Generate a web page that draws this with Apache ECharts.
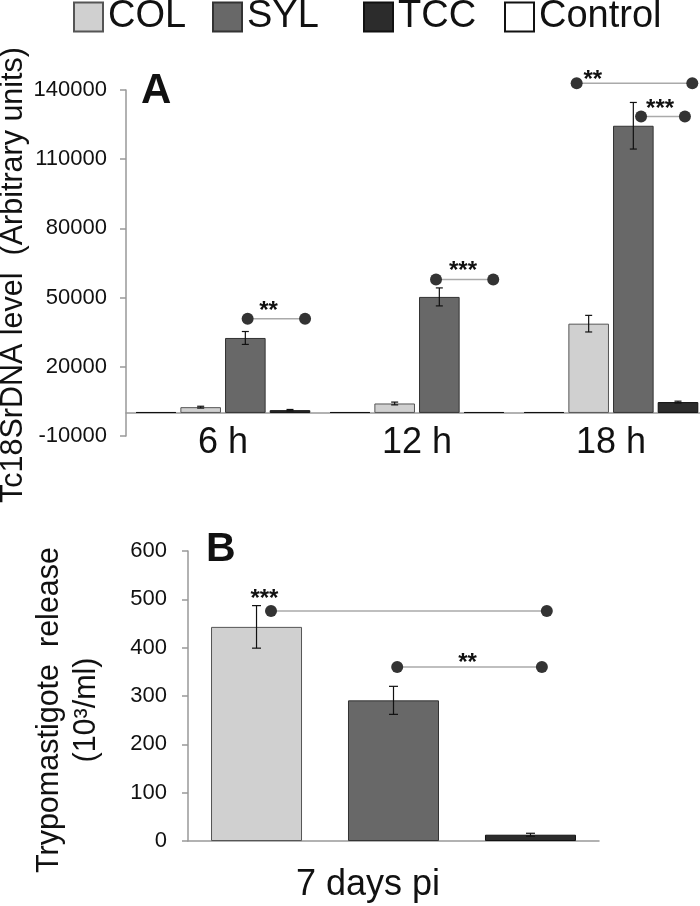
<!DOCTYPE html>
<html><head><meta charset="utf-8">
<script src="https://cdn.jsdelivr.net/npm/echarts@6/dist/echarts.min.js"></script>
<style>html,body{margin:0;padding:0;background:#fff}#c{width:700px;height:906px}</style>
</head><body><div id="c"></div>
<script>
// ---- data ----
const legendNames = ['COL', 'SYL', 'TCC', 'Control'];
const timeCategories = ['6 h', '12 h', '18 h'];
const controlA = [400, 400, 400];
const controlAErr = [0, 0, 0];
const colA = [2500, 4100, 38700];
const colAErr = [400, 600, 3600];
const sylA = [32500, 50300, 124500];
const sylAErr = [2800, 3900, 10100];
const tccA = [1200, 400, 4700];
const tccAErr = [300, 0, 400];
const yTicksA = [-10000, 20000, 50000, 80000, 110000, 140000];

const dayCategories = ['7 days pi'];
const colB = [443];
const colBErr = [44];
const sylB = [291];
const sylBErr = [29];
const tccB = [13];
const tccBErr = [3];
const yTicksB = [0, 100, 200, 300, 400, 500, 600];

// significance brackets: [xStart, xEnd, yLine, labelX, labelY, label] (x in category units)
const bracketsA = [
  [0.627, 0.923, 40800, 0.735, 46100, '**'],
  [1.598, 1.893, 57800, 1.737, 63400, '***'],
  [2.323, 2.919, 142900, 2.406, 146500, '**'],
  [2.655, 2.881, 128500, 2.753, 133800, '***']
];
const bracketsB = [
  [0.202, 0.873, 476, 0.186, 511, '***'],
  [0.509, 0.861, 360, 0.680, 378, '**']
];

// ---- styles ----
const FONT = '"Liberation Sans", Arial, sans-serif';
const colors = { COL: '#d0d0d0', SYL: '#686868', TCC: '#2c2c2c', Control: '#ffffff' };
const borders = { COL: '#555', SYL: '#333', TCC: '#111', Control: '#111' };
const gapA = { cat: 0.10, bar: 0.10 };
const gapB = { cat: 0.112, bar: 0.505 };

function pct(v) { return (v * 100) + '%'; }

function barSeries(name, data, xi, yi, gap) {
  return {
    type: 'bar', name: name, xAxisIndex: xi, yAxisIndex: yi, data: data,
    barCategoryGap: pct(gap.cat), barGap: pct(gap.bar),
    itemStyle: { color: colors[name], borderColor: borders[name], borderWidth: 1 },
    emphasis: { disabled: true }
  };
}

function errSeries(values, errs, idx, n, xi, yi, gap, capHalf) {
  return {
    type: 'custom', xAxisIndex: xi, yAxisIndex: yi, z: 5, silent: true,
    data: values.map((v, i) => [i, v, errs[i]]),
    encode: { x: 0, y: 1 },
    renderItem: function (params, api) {
      const i = api.value(0), v = api.value(1), e = api.value(2);
      if (!e) return;
      const band = api.size([1, 0])[0];
      const usable = band * (1 - gap.cat);
      const bw = usable / (n + (n - 1) * gap.bar);
      const off = -usable / 2 + idx * bw * (1 + gap.bar) + bw / 2;
      const t = api.coord([i, v + e]);
      const b = api.coord([i, v - e]);
      const x = t[0] + off;
      const st = { stroke: '#111', lineWidth: 1.2 };
      return { type: 'group', children: [
        { type: 'line', shape: { x1: x, y1: t[1], x2: x, y2: b[1] }, style: st },
        { type: 'line', shape: { x1: x - capHalf, y1: t[1], x2: x + capHalf, y2: t[1] }, style: st },
        { type: 'line', shape: { x1: x - capHalf, y1: b[1], x2: x + capHalf, y2: b[1] }, style: st }
      ] };
    }
  };
}

function bracketSeries(list, xi, yi) {
  return {
    type: 'custom', xAxisIndex: xi, yAxisIndex: yi, z: 6, silent: true,
    data: list.map(r => [r[0], r[1], r[2], r[3], r[4]]),
    encode: { x: 0, y: 2 },
    renderItem: function (params, api) {
      const y = api.value(2);
      const p1 = api.coord([api.value(0), y]);
      const p2 = api.coord([api.value(1), y]);
      const pl = api.coord([api.value(3), api.value(4)]);
      return { type: 'group', children: [
        { type: 'line', shape: { x1: p1[0], y1: p1[1], x2: p2[0], y2: p2[1] }, style: { stroke: '#aaa', lineWidth: 1.5 } },
        { type: 'circle', shape: { cx: p1[0], cy: p1[1], r: 6 }, style: { fill: '#333' } },
        { type: 'circle', shape: { cx: p2[0], cy: p2[1], r: 6 }, style: { fill: '#333' } },
        { type: 'text', x: pl[0], y: pl[1] + 5, style: { text: list[params.dataIndex][5], fill: '#111', font: 'bold 24px ' + FONT, align: 'center', verticalAlign: 'middle' } }
      ] };
    }
  };
}

const axisGray = '#999';
const legendLefts = [73, 212, 363, 504];
const plain = v => String(v);

const option = {
  animation: false,
  textStyle: { fontFamily: FONT },
  legend: legendNames.map((n, i) => ({
    data: [n], left: legendLefts[i], top: -2, padding: 0, itemWidth: 29, itemHeight: 29, icon: 'rect',
    selectedMode: false, textStyle: { fontSize: 38, color: '#111', fontFamily: FONT }
  })),
  graphic: [
    { type: 'text', left: 141, top: 70, style: { text: 'A', font: 'bold 42px ' + FONT, fill: '#111' } },
    { type: 'text', left: 206, top: 529, style: { text: 'B', font: 'bold 41px ' + FONT, fill: '#111' } }
  ],
  grid: [
    { left: 126, top: 90, width: 582, height: 346, outerBoundsMode: 'none' },
    { left: 188, top: 551, width: 411, height: 290, outerBoundsMode: 'none' }
  ],
  xAxis: [
    { type: 'category', gridIndex: 0, data: timeCategories,
      axisLine: { onZero: true, onZeroAxisIndex: 0, lineStyle: { color: axisGray, width: 1.5 } }, axisTick: { show: false },
      axisLabel: { fontSize: 36, color: '#111', margin: -11 } },
    { type: 'value', gridIndex: 0, min: 0, max: 3, show: false, axisLine: { onZero: false } },
    { type: 'category', gridIndex: 1, data: dayCategories,
      axisLine: { onZero: false, lineStyle: { color: axisGray, width: 1.5 } }, axisTick: { show: false },
      axisLabel: { fontSize: 36, color: '#111', margin: 26, padding: [0, 51, 0, 0] } },
    { type: 'value', gridIndex: 1, min: 0, max: 1, show: false, axisLine: { onZero: false } }
  ],
  yAxis: [
    { type: 'value', gridIndex: 0, min: yTicksA[0], max: yTicksA[yTicksA.length - 1], interval: yTicksA[1] - yTicksA[0],
      axisLine: { show: true, onZero: false, lineStyle: { color: axisGray, width: 1.5 } },
      axisTick: { show: true, length: 6, lineStyle: { color: axisGray, width: 1.5 } },
      splitLine: { show: false },
      axisLabel: { fontSize: 22, color: '#111', margin: 19, formatter: plain },
      name: 'Tc18SrDNA level  (Arbitrary units)', nameLocation: 'middle', nameRotate: 90, nameGap: 97,
      nameMoveOverlap: false,
      nameTextStyle: { fontSize: 30.5, color: '#111', padding: [0, 24, 0, 0] } },
    { type: 'value', gridIndex: 1, min: yTicksB[0], max: yTicksB[yTicksB.length - 1], interval: yTicksB[1] - yTicksB[0],
      axisLine: { show: true, onZero: false, lineStyle: { color: axisGray, width: 1.5 } },
      axisTick: { show: true, length: 6, lineStyle: { color: axisGray, width: 1.5 } },
      splitLine: { show: false },
      axisLabel: { fontSize: 22, color: '#111', margin: 21, formatter: plain },
      name: 'Trypomastigote  release\n(10³/ml)', nameLocation: 'middle', nameRotate: 90, nameGap: 83,
      nameMoveOverlap: false,
      nameTextStyle: { fontSize: 30.5, lineHeight: 37, color: '#111', padding: [0, 28, 0, 0] } }
  ],
  series: [
    barSeries('Control', controlA, 0, 0, gapA),
    barSeries('COL', colA, 0, 0, gapA),
    barSeries('SYL', sylA, 0, 0, gapA),
    barSeries('TCC', tccA, 0, 0, gapA),
    barSeries('COL', colB, 2, 1, gapB),
    barSeries('SYL', sylB, 2, 1, gapB),
    barSeries('TCC', tccB, 2, 1, gapB),
    errSeries(controlA, controlAErr, 0, 4, 0, 0, gapA, 3.5),
    errSeries(colA, colAErr, 1, 4, 0, 0, gapA, 3.5),
    errSeries(sylA, sylAErr, 2, 4, 0, 0, gapA, 3.5),
    errSeries(tccA, tccAErr, 3, 4, 0, 0, gapA, 3.5),
    errSeries(colB, colBErr, 0, 3, 2, 1, gapB, 4.5),
    errSeries(sylB, sylBErr, 1, 3, 2, 1, gapB, 4.5),
    errSeries(tccB, tccBErr, 2, 3, 2, 1, gapB, 4.5),
    bracketSeries(bracketsA, 1, 0),
    bracketSeries(bracketsB, 3, 1)
  ]
};

const chart = echarts.init(document.getElementById('c'), null, { renderer: 'canvas' });
chart.setOption(option);
</script>
</body></html>
